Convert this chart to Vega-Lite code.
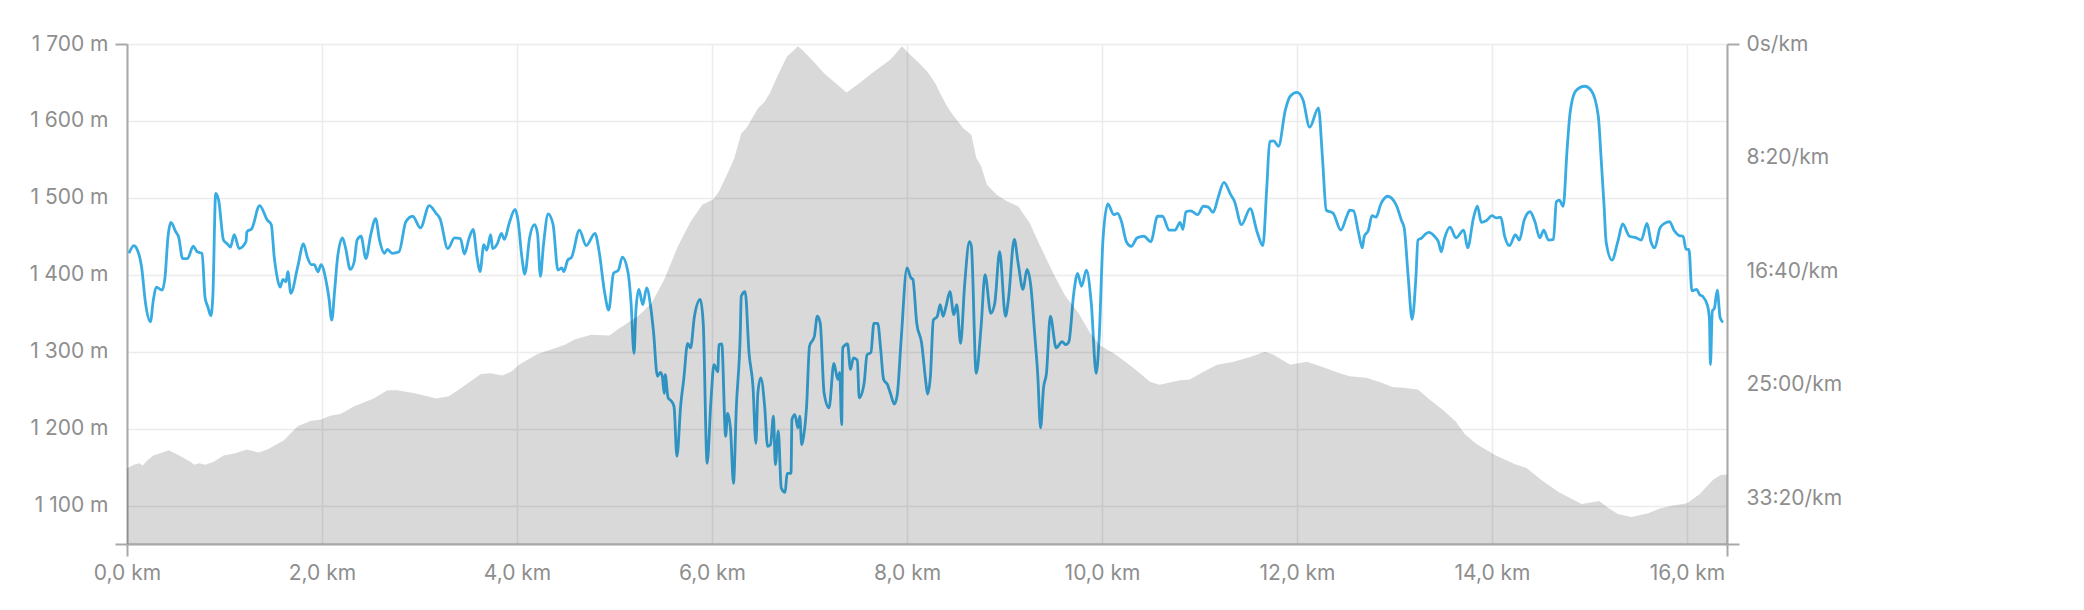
{
  "$schema": "https://vega.github.io/schema/vega-lite/v6.json",
  "width": 1600,
  "height": 500,
  "autosize": {"type": "none"},
  "padding": {"left": 127, "top": 44, "right": 357, "bottom": 66},
  "background": "#ffffff",
  "config": {
    "view": {"stroke": null},
    "font": "Inter",
    "axis": {
      "labelFont": "Inter",
      "labelFontSize": 21,
      "labelColor": "#8e8e8e",
      "labelFlush": false,
      "domainColor": "#a8a8a8",
      "domainWidth": 2,
      "tickColor": "#a8a8a8",
      "tickWidth": 2,
      "tickSize": 12,
      "gridColor": "#ececec",
      "gridWidth": 1.5,
      "title": null
    }
  },
  "datasets": {
    "pace": [
      {"km": 0.02, "pace": 921}, {"km": 0.07, "pace": 887}, {"km": 0.10, "pace": 900}, {"km": 0.15, "pace": 982},
      {"km": 0.19, "pace": 1141}, {"km": 0.24, "pace": 1222}, {"km": 0.27, "pace": 1127}, {"km": 0.30, "pace": 1070},
      {"km": 0.36, "pace": 1083}, {"km": 0.39, "pace": 1026}, {"km": 0.42, "pace": 850}, {"km": 0.45, "pace": 785},
      {"km": 0.50, "pace": 826}, {"km": 0.53, "pace": 850}, {"km": 0.57, "pace": 944}, {"km": 0.62, "pace": 944},
      {"km": 0.68, "pace": 890}, {"km": 0.72, "pace": 914}, {"km": 0.77, "pace": 921}, {"km": 0.80, "pace": 1114},
      {"km": 0.83, "pace": 1158}, {"km": 0.86, "pace": 1195}, {"km": 0.88, "pace": 1114}, {"km": 0.91, "pace": 657},
      {"km": 0.94, "pace": 687}, {"km": 0.99, "pace": 863}, {"km": 1.03, "pace": 880}, {"km": 1.06, "pace": 894},
      {"km": 1.10, "pace": 839}, {"km": 1.15, "pace": 900}, {"km": 1.22, "pace": 870}, {"km": 1.23, "pace": 826},
      {"km": 1.28, "pace": 812}, {"km": 1.36, "pace": 711}, {"km": 1.44, "pace": 775}, {"km": 1.48, "pace": 795},
      {"km": 1.51, "pace": 938}, {"km": 1.54, "pace": 1026}, {"km": 1.57, "pace": 1070}, {"km": 1.60, "pace": 1036},
      {"km": 1.63, "pace": 1046}, {"km": 1.65, "pace": 1002}, {"km": 1.68, "pace": 1097}, {"km": 1.75, "pace": 982},
      {"km": 1.81, "pace": 880}, {"km": 1.85, "pace": 938}, {"km": 1.89, "pace": 971}, {"km": 1.92, "pace": 971},
      {"km": 1.96, "pace": 1002}, {"km": 1.99, "pace": 971}, {"km": 2.04, "pace": 1039}, {"km": 2.07, "pace": 1114},
      {"km": 2.10, "pace": 1215}, {"km": 2.13, "pace": 1083}, {"km": 2.16, "pace": 938}, {"km": 2.21, "pace": 853},
      {"km": 2.24, "pace": 894}, {"km": 2.29, "pace": 992}, {"km": 2.33, "pace": 958}, {"km": 2.36, "pace": 863},
      {"km": 2.40, "pace": 846}, {"km": 2.45, "pace": 944}, {"km": 2.50, "pace": 839}, {"km": 2.55, "pace": 768},
      {"km": 2.59, "pace": 863}, {"km": 2.64, "pace": 921}, {"km": 2.67, "pace": 904}, {"km": 2.72, "pace": 921},
      {"km": 2.79, "pace": 914}, {"km": 2.86, "pace": 782}, {"km": 2.93, "pace": 758}, {"km": 3.01, "pace": 809},
      {"km": 3.10, "pace": 711}, {"km": 3.17, "pace": 745}, {"km": 3.21, "pace": 768}, {"km": 3.29, "pace": 900},
      {"km": 3.36, "pace": 853}, {"km": 3.42, "pace": 856}, {"km": 3.46, "pace": 924}, {"km": 3.51, "pace": 853},
      {"km": 3.55, "pace": 816}, {"km": 3.59, "pace": 938}, {"km": 3.62, "pace": 1002}, {"km": 3.66, "pace": 883},
      {"km": 3.69, "pace": 907}, {"km": 3.73, "pace": 839}, {"km": 3.75, "pace": 900}, {"km": 3.80, "pace": 877},
      {"km": 3.84, "pace": 833}, {"km": 3.87, "pace": 860}, {"km": 3.92, "pace": 789}, {"km": 3.98, "pace": 728},
      {"km": 4.01, "pace": 775}, {"km": 4.05, "pace": 938}, {"km": 4.08, "pace": 1012}, {"km": 4.13, "pace": 850},
      {"km": 4.18, "pace": 795}, {"km": 4.21, "pace": 833}, {"km": 4.24, "pace": 1022}, {"km": 4.27, "pace": 890},
      {"km": 4.32, "pace": 748}, {"km": 4.37, "pace": 795}, {"km": 4.42, "pace": 995}, {"km": 4.46, "pace": 985},
      {"km": 4.48, "pace": 1002}, {"km": 4.52, "pace": 951}, {"km": 4.56, "pace": 938}, {"km": 4.64, "pace": 819},
      {"km": 4.71, "pace": 887}, {"km": 4.80, "pace": 833}, {"km": 4.84, "pace": 907}, {"km": 4.90, "pace": 1097},
      {"km": 4.94, "pace": 1171}, {"km": 4.99, "pace": 1009}, {"km": 5.04, "pace": 995}, {"km": 5.08, "pace": 938},
      {"km": 5.14, "pace": 1009}, {"km": 5.17, "pace": 1141}, {"km": 5.20, "pace": 1361}, {"km": 5.22, "pace": 1168},
      {"km": 5.25, "pace": 1080}, {"km": 5.29, "pace": 1147}, {"km": 5.33, "pace": 1073}, {"km": 5.37, "pace": 1154},
      {"km": 5.40, "pace": 1266}, {"km": 5.44, "pace": 1462}, {"km": 5.47, "pace": 1445}, {"km": 5.49, "pace": 1462},
      {"km": 5.51, "pace": 1537}, {"km": 5.52, "pace": 1455}, {"km": 5.55, "pace": 1557}, {"km": 5.58, "pace": 1570},
      {"km": 5.61, "pace": 1594}, {"km": 5.64, "pace": 1814}, {"km": 5.68, "pace": 1584}, {"km": 5.71, "pace": 1476},
      {"km": 5.75, "pace": 1317}, {"km": 5.78, "pace": 1337}, {"km": 5.82, "pace": 1198}, {"km": 5.88, "pace": 1124},
      {"km": 5.91, "pace": 1229}, {"km": 5.95, "pace": 1845}, {"km": 5.99, "pace": 1564}, {"km": 6.02, "pace": 1411},
      {"km": 6.06, "pace": 1442}, {"km": 6.07, "pace": 1323}, {"km": 6.10, "pace": 1320}, {"km": 6.14, "pace": 1726},
      {"km": 6.16, "pace": 1625}, {"km": 6.19, "pace": 1696}, {"km": 6.22, "pace": 1933}, {"km": 6.25, "pace": 1594},
      {"km": 6.29, "pace": 1273}, {"km": 6.30, "pace": 1110}, {"km": 6.34, "pace": 1090}, {"km": 6.38, "pace": 1361},
      {"km": 6.42, "pace": 1506}, {"km": 6.45, "pace": 1757}, {"km": 6.47, "pace": 1537}, {"km": 6.50, "pace": 1469},
      {"km": 6.54, "pace": 1594}, {"km": 6.57, "pace": 1770}, {"km": 6.60, "pace": 1763}, {"km": 6.63, "pace": 1638},
      {"km": 6.65, "pace": 1851}, {"km": 6.68, "pace": 1702}, {"km": 6.71, "pace": 1953}, {"km": 6.75, "pace": 1973},
      {"km": 6.77, "pace": 1889}, {"km": 6.81, "pace": 1889}, {"km": 6.82, "pace": 1652}, {"km": 6.85, "pace": 1631},
      {"km": 6.88, "pace": 1689}, {"km": 6.90, "pace": 1638}, {"km": 6.92, "pace": 1763}, {"km": 6.94, "pace": 1726},
      {"km": 6.97, "pace": 1594}, {"km": 7.00, "pace": 1330}, {"km": 7.05, "pace": 1286}, {"km": 7.08, "pace": 1198},
      {"km": 7.11, "pace": 1229}, {"km": 7.15, "pace": 1537}, {"km": 7.20, "pace": 1601}, {"km": 7.25, "pace": 1405},
      {"km": 7.29, "pace": 1476}, {"km": 7.31, "pace": 1445}, {"km": 7.33, "pace": 1675}, {"km": 7.34, "pace": 1337},
      {"km": 7.39, "pace": 1320}, {"km": 7.42, "pace": 1432}, {"km": 7.45, "pace": 1381}, {"km": 7.49, "pace": 1391},
      {"km": 7.51, "pace": 1557}, {"km": 7.56, "pace": 1493}, {"km": 7.59, "pace": 1367}, {"km": 7.63, "pace": 1357},
      {"km": 7.66, "pace": 1229}, {"km": 7.70, "pace": 1229}, {"km": 7.73, "pace": 1344}, {"km": 7.76, "pace": 1476},
      {"km": 7.80, "pace": 1499}, {"km": 7.83, "pace": 1537}, {"km": 7.87, "pace": 1584}, {"km": 7.90, "pace": 1543},
      {"km": 7.94, "pace": 1300}, {"km": 8.00, "pace": 985}, {"km": 8.04, "pace": 1029}, {"km": 8.06, "pace": 1036},
      {"km": 8.10, "pace": 1229}, {"km": 8.15, "pace": 1317}, {"km": 8.19, "pace": 1476}, {"km": 8.21, "pace": 1540},
      {"km": 8.24, "pace": 1462}, {"km": 8.27, "pace": 1215}, {"km": 8.31, "pace": 1198}, {"km": 8.34, "pace": 1147},
      {"km": 8.37, "pace": 1198}, {"km": 8.40, "pace": 1154}, {"km": 8.44, "pace": 1090}, {"km": 8.48, "pace": 1191},
      {"km": 8.51, "pace": 1147}, {"km": 8.55, "pace": 1317}, {"km": 8.59, "pace": 1066}, {"km": 8.64, "pace": 870},
      {"km": 8.66, "pace": 890}, {"km": 8.71, "pace": 1449}, {"km": 8.76, "pace": 1242}, {"km": 8.80, "pace": 1015},
      {"km": 8.86, "pace": 1185}, {"km": 8.90, "pace": 1141}, {"km": 8.95, "pace": 914}, {"km": 9.01, "pace": 1198},
      {"km": 9.04, "pace": 1124}, {"km": 9.10, "pace": 860}, {"km": 9.14, "pace": 965}, {"km": 9.19, "pace": 1080},
      {"km": 9.23, "pace": 992}, {"km": 9.27, "pace": 1066}, {"km": 9.31, "pace": 1279}, {"km": 9.34, "pace": 1449},
      {"km": 9.37, "pace": 1689}, {"km": 9.40, "pace": 1513}, {"km": 9.43, "pace": 1449}, {"km": 9.47, "pace": 1198},
      {"km": 9.53, "pace": 1337}, {"km": 9.59, "pace": 1310}, {"km": 9.63, "pace": 1323}, {"km": 9.66, "pace": 1310},
      {"km": 9.71, "pace": 1097}, {"km": 9.75, "pace": 1009}, {"km": 9.79, "pace": 1066}, {"km": 9.84, "pace": 995},
      {"km": 9.89, "pace": 1141}, {"km": 9.94, "pace": 1449}, {"km": 9.97, "pace": 1300}, {"km": 10.01, "pace": 860},
      {"km": 10.06, "pace": 704}, {"km": 10.12, "pace": 751}, {"km": 10.16, "pace": 745}, {"km": 10.20, "pace": 782},
      {"km": 10.25, "pace": 870}, {"km": 10.30, "pace": 890}, {"km": 10.36, "pace": 853}, {"km": 10.43, "pace": 846},
      {"km": 10.50, "pace": 870}, {"km": 10.57, "pace": 758}, {"km": 10.62, "pace": 758}, {"km": 10.69, "pace": 819},
      {"km": 10.75, "pace": 819}, {"km": 10.80, "pace": 785}, {"km": 10.83, "pace": 816}, {"km": 10.86, "pace": 738},
      {"km": 10.91, "pace": 734}, {"km": 10.98, "pace": 751}, {"km": 11.04, "pace": 714}, {"km": 11.09, "pace": 718},
      {"km": 11.14, "pace": 741}, {"km": 11.19, "pace": 677}, {"km": 11.25, "pace": 609}, {"km": 11.32, "pace": 663},
      {"km": 11.36, "pace": 694}, {"km": 11.43, "pace": 795}, {"km": 11.52, "pace": 724}, {"km": 11.59, "pace": 826},
      {"km": 11.65, "pace": 887}, {"km": 11.69, "pace": 630}, {"km": 11.72, "pace": 430}, {"km": 11.76, "pace": 426},
      {"km": 11.81, "pace": 450}, {"km": 11.88, "pace": 291}, {"km": 11.93, "pace": 230}, {"km": 12.00, "pace": 213},
      {"km": 12.06, "pace": 244}, {"km": 12.13, "pace": 366}, {"km": 12.22, "pace": 281}, {"km": 12.26, "pace": 494},
      {"km": 12.30, "pace": 731}, {"km": 12.37, "pace": 745}, {"km": 12.45, "pace": 819}, {"km": 12.51, "pace": 758},
      {"km": 12.54, "pace": 731}, {"km": 12.58, "pace": 734}, {"km": 12.63, "pace": 829}, {"km": 12.67, "pace": 897},
      {"km": 12.69, "pace": 846}, {"km": 12.73, "pace": 822}, {"km": 12.77, "pace": 755}, {"km": 12.81, "pace": 762},
      {"km": 12.86, "pace": 704}, {"km": 12.93, "pace": 670}, {"km": 13.02, "pace": 711}, {"km": 13.07, "pace": 775},
      {"km": 13.10, "pace": 812}, {"km": 13.14, "pace": 1022}, {"km": 13.18, "pace": 1212}, {"km": 13.22, "pace": 1022},
      {"km": 13.24, "pace": 863}, {"km": 13.28, "pace": 853}, {"km": 13.31, "pace": 839}, {"km": 13.35, "pace": 829},
      {"km": 13.41, "pace": 846}, {"km": 13.45, "pace": 870}, {"km": 13.48, "pace": 914}, {"km": 13.51, "pace": 860},
      {"km": 13.57, "pace": 806}, {"km": 13.63, "pace": 853}, {"km": 13.71, "pace": 819}, {"km": 13.75, "pace": 897},
      {"km": 13.81, "pace": 765}, {"km": 13.85, "pace": 714}, {"km": 13.89, "pace": 785}, {"km": 13.94, "pace": 778},
      {"km": 14.00, "pace": 755}, {"km": 14.04, "pace": 765}, {"km": 14.09, "pace": 762}, {"km": 14.13, "pace": 846},
      {"km": 14.18, "pace": 887}, {"km": 14.24, "pace": 839}, {"km": 14.28, "pace": 863}, {"km": 14.33, "pace": 775},
      {"km": 14.39, "pace": 738}, {"km": 14.44, "pace": 782}, {"km": 14.49, "pace": 853}, {"km": 14.53, "pace": 819},
      {"km": 14.58, "pace": 863}, {"km": 14.63, "pace": 860}, {"km": 14.66, "pace": 694}, {"km": 14.69, "pace": 687},
      {"km": 14.73, "pace": 714}, {"km": 14.77, "pace": 464}, {"km": 14.80, "pace": 305}, {"km": 14.86, "pace": 206},
      {"km": 14.95, "pace": 186}, {"km": 15.02, "pace": 206}, {"km": 15.09, "pace": 318}, {"km": 15.12, "pace": 511},
      {"km": 15.15, "pace": 718}, {"km": 15.17, "pace": 870}, {"km": 15.23, "pace": 951}, {"km": 15.29, "pace": 870},
      {"km": 15.34, "pace": 792}, {"km": 15.41, "pace": 846}, {"km": 15.48, "pace": 853}, {"km": 15.53, "pace": 863},
      {"km": 15.59, "pace": 789}, {"km": 15.63, "pace": 870}, {"km": 15.67, "pace": 897}, {"km": 15.72, "pace": 812},
      {"km": 15.77, "pace": 789}, {"km": 15.82, "pace": 782}, {"km": 15.87, "pace": 822}, {"km": 15.92, "pace": 843},
      {"km": 15.96, "pace": 846}, {"km": 15.99, "pace": 904}, {"km": 16.02, "pace": 904}, {"km": 16.05, "pace": 1086},
      {"km": 16.10, "pace": 1080}, {"km": 16.13, "pace": 1103}, {"km": 16.16, "pace": 1110}, {"km": 16.21, "pace": 1151},
      {"km": 16.23, "pace": 1212}, {"km": 16.24, "pace": 1411}, {"km": 16.26, "pace": 1174}, {"km": 16.28, "pace": 1164},
      {"km": 16.31, "pace": 1083}, {"km": 16.34, "pace": 1205}, {"km": 16.37, "pace": 1225}
    ],
    "elevation": [
      {"km": 0.00, "ele": 1148}, {"km": 0.07, "ele": 1153}, {"km": 0.13, "ele": 1155}, {"km": 0.16, "ele": 1152},
      {"km": 0.21, "ele": 1159}, {"km": 0.27, "ele": 1165}, {"km": 0.43, "ele": 1172}, {"km": 0.55, "ele": 1164},
      {"km": 0.65, "ele": 1157}, {"km": 0.69, "ele": 1153}, {"km": 0.74, "ele": 1155}, {"km": 0.80, "ele": 1153},
      {"km": 0.89, "ele": 1157}, {"km": 0.99, "ele": 1165}, {"km": 1.11, "ele": 1168}, {"km": 1.23, "ele": 1173},
      {"km": 1.35, "ele": 1169}, {"km": 1.44, "ele": 1173}, {"km": 1.61, "ele": 1185}, {"km": 1.75, "ele": 1203},
      {"km": 1.88, "ele": 1210}, {"km": 1.99, "ele": 1212}, {"km": 2.09, "ele": 1217}, {"km": 2.19, "ele": 1219},
      {"km": 2.33, "ele": 1229}, {"km": 2.53, "ele": 1239}, {"km": 2.67, "ele": 1250}, {"km": 2.77, "ele": 1250},
      {"km": 2.95, "ele": 1246}, {"km": 3.08, "ele": 1242}, {"km": 3.17, "ele": 1239}, {"km": 3.30, "ele": 1242},
      {"km": 3.42, "ele": 1252}, {"km": 3.55, "ele": 1264}, {"km": 3.63, "ele": 1271}, {"km": 3.73, "ele": 1272},
      {"km": 3.85, "ele": 1269}, {"km": 3.94, "ele": 1274}, {"km": 4.02, "ele": 1283}, {"km": 4.13, "ele": 1291},
      {"km": 4.21, "ele": 1297}, {"km": 4.35, "ele": 1303}, {"km": 4.49, "ele": 1309}, {"km": 4.59, "ele": 1316},
      {"km": 4.76, "ele": 1322}, {"km": 4.95, "ele": 1321}, {"km": 5.03, "ele": 1329}, {"km": 5.14, "ele": 1338},
      {"km": 5.24, "ele": 1346}, {"km": 5.38, "ele": 1363}, {"km": 5.51, "ele": 1394}, {"km": 5.65, "ele": 1437},
      {"km": 5.78, "ele": 1469}, {"km": 5.90, "ele": 1491}, {"km": 6.01, "ele": 1498}, {"km": 6.07, "ele": 1508},
      {"km": 6.16, "ele": 1532}, {"km": 6.23, "ele": 1552}, {"km": 6.30, "ele": 1584}, {"km": 6.35, "ele": 1590},
      {"km": 6.40, "ele": 1601}, {"km": 6.47, "ele": 1616}, {"km": 6.54, "ele": 1625}, {"km": 6.60, "ele": 1638},
      {"km": 6.67, "ele": 1658}, {"km": 6.77, "ele": 1684}, {"km": 6.84, "ele": 1692}, {"km": 6.88, "ele": 1697},
      {"km": 6.93, "ele": 1692}, {"km": 7.05, "ele": 1676}, {"km": 7.15, "ele": 1662}, {"km": 7.25, "ele": 1651},
      {"km": 7.38, "ele": 1637}, {"km": 7.49, "ele": 1647}, {"km": 7.66, "ele": 1664}, {"km": 7.83, "ele": 1680},
      {"km": 7.95, "ele": 1697}, {"km": 8.00, "ele": 1690}, {"km": 8.11, "ele": 1677}, {"km": 8.21, "ele": 1664},
      {"km": 8.29, "ele": 1649}, {"km": 8.34, "ele": 1636}, {"km": 8.41, "ele": 1619}, {"km": 8.48, "ele": 1606},
      {"km": 8.58, "ele": 1590}, {"km": 8.66, "ele": 1582}, {"km": 8.71, "ele": 1552}, {"km": 8.76, "ele": 1541},
      {"km": 8.82, "ele": 1517}, {"km": 8.92, "ele": 1504}, {"km": 9.02, "ele": 1496}, {"km": 9.14, "ele": 1489},
      {"km": 9.26, "ele": 1467}, {"km": 9.36, "ele": 1439}, {"km": 9.50, "ele": 1402}, {"km": 9.62, "ele": 1373},
      {"km": 9.76, "ele": 1350}, {"km": 9.88, "ele": 1324}, {"km": 9.98, "ele": 1308}, {"km": 10.12, "ele": 1298},
      {"km": 10.25, "ele": 1286}, {"km": 10.39, "ele": 1272}, {"km": 10.49, "ele": 1261}, {"km": 10.59, "ele": 1257},
      {"km": 10.80, "ele": 1263}, {"km": 10.90, "ele": 1264}, {"km": 11.04, "ele": 1274}, {"km": 11.18, "ele": 1283},
      {"km": 11.35, "ele": 1287}, {"km": 11.52, "ele": 1293}, {"km": 11.67, "ele": 1300}, {"km": 11.76, "ele": 1296},
      {"km": 11.84, "ele": 1290}, {"km": 11.93, "ele": 1283}, {"km": 12.10, "ele": 1287}, {"km": 12.24, "ele": 1281},
      {"km": 12.44, "ele": 1272}, {"km": 12.54, "ele": 1268}, {"km": 12.71, "ele": 1266}, {"km": 12.86, "ele": 1260},
      {"km": 12.98, "ele": 1254}, {"km": 13.09, "ele": 1253}, {"km": 13.24, "ele": 1251}, {"km": 13.36, "ele": 1238},
      {"km": 13.50, "ele": 1224}, {"km": 13.63, "ele": 1209}, {"km": 13.72, "ele": 1193}, {"km": 13.84, "ele": 1180},
      {"km": 14.04, "ele": 1165}, {"km": 14.25, "ele": 1153}, {"km": 14.35, "ele": 1149}, {"km": 14.52, "ele": 1132},
      {"km": 14.69, "ele": 1117}, {"km": 14.92, "ele": 1102}, {"km": 15.10, "ele": 1106}, {"km": 15.19, "ele": 1097},
      {"km": 15.29, "ele": 1089}, {"km": 15.43, "ele": 1085}, {"km": 15.60, "ele": 1090}, {"km": 15.72, "ele": 1096},
      {"km": 15.86, "ele": 1100}, {"km": 16.00, "ele": 1103}, {"km": 16.13, "ele": 1115}, {"km": 16.27, "ele": 1134},
      {"km": 16.35, "ele": 1140}, {"km": 16.41, "ele": 1140}
    ]
  },
  "encoding": {
    "x": {
      "field": "km",
      "type": "quantitative",
      "scale": {"domain": [0, 16.41], "nice": false, "zero": false},
      "axis": {
        "values": [0, 2, 4, 6, 8, 10, 12, 14, 16, 16.41],
        "labelExpr": "datum.value > 16.1 ? '' : replace(format(datum.value, '.1f'), '.', ',') + ' km'",
        "grid": true,
        "labelFlush": false,
        "labelPadding": 6,
        "tickOpacity": {"condition": {"test": "datum.value == 0 || datum.value > 16.1", "value": 1}, "value": 0}
      }
    }
  },
  "layer": [
    {
      "data": {"name": "pace"},
      "mark": {"type": "line", "color": "#38ace2", "strokeWidth": 2.8, "interpolate": "monotone"},
      "encoding": {
        "y": {
          "field": "pace",
          "type": "quantitative",
          "scale": {"domain": [0, 2200], "reverse": true, "nice": false, "zero": false},
          "axis": {
            "orient": "right",
            "values": [0, 500, 1000, 1500, 2000, 2200],
            "labelExpr": "datum.value >= 2200 ? '' : datum.value == 0 ? '0s/km' : floor(datum.value / 60) + ':' + (datum.value % 60 < 10 ? '0' : '') + (datum.value % 60) + '/km'",
            "grid": false,
            "labelPadding": 7,
            "tickOpacity": {"condition": {"test": "datum.value == 0 || datum.value >= 2200", "value": 1}, "value": 0}
          }
        }
      }
    },
    {
      "data": {"name": "elevation"},
      "mark": {"type": "area", "color": "#000000", "opacity": 0.15, "interpolate": "linear"},
      "encoding": {
        "y": {
          "field": "ele",
          "type": "quantitative",
          "scale": {"domain": [1050, 1700], "nice": false, "zero": false},
          "axis": {
            "orient": "left",
            "values": [1050, 1100, 1200, 1300, 1400, 1500, 1600, 1700],
            "labelExpr": "datum.value == 1050 ? '' : replace(format(datum.value, ','), ',', ' ') + ' m'",
            "grid": true,
            "labelPadding": 7,
            "tickOpacity": {"condition": {"test": "datum.value == 1050 || datum.value == 1700", "value": 1}, "value": 0}
          }
        },
        "y2": {"datum": 1050}
      }
    }
  ],
  "resolve": {"scale": {"y": "independent"}}
}
